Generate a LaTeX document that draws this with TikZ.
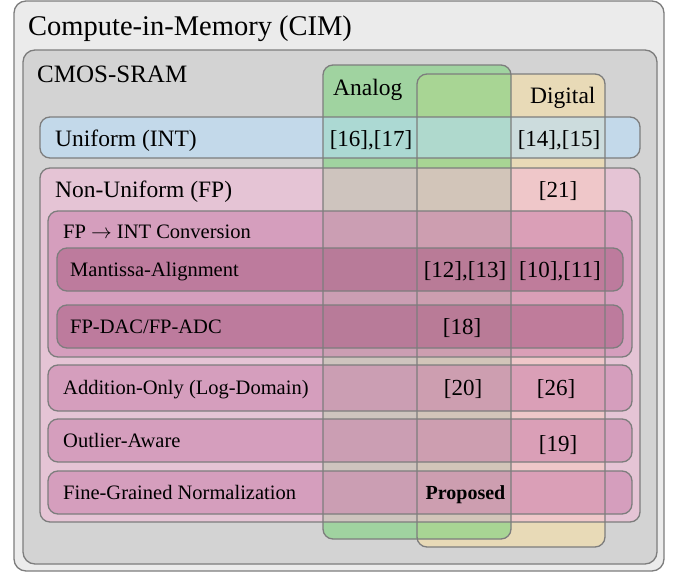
\documentclass[tikz,border=0pt]{standalone}
\usepackage{fontspec}
\setmainfont{Liberation Serif}
\definecolor{outerbg}{RGB}{235,235,235}
\definecolor{cmosbg}{RGB}{211,211,211}
\definecolor{digcol}{RGB}{232,218,183}
\definecolor{anacol}{RGB}{126,211,126}
\definecolor{unicol}{RGB}{182,222,253}
\definecolor{nonunicol}{RGB}{245,184,216}
\definecolor{fpintcol}{RGB}{201,127,170}
\definecolor{mantcol}{RGB}{170,96,132}
\definecolor{linegray}{RGB}{125,125,125}
\begin{document}
\begin{tikzpicture}[x=1pt,y=-1pt,
  bigbox/.style={draw=linegray, line width=1.3pt, rounded corners=12pt},
  colfill/.style={rounded corners=10pt},
  coledge/.style={draw=linegray, line width=1.3pt, rounded corners=10pt},
  rowbox/.style={draw=linegray, line width=1.3pt, rounded corners=10pt, fill opacity=0.55},
  txt/.style={inner sep=0pt, anchor=base west},
  cite/.style={inner sep=0pt, anchor=base, font=\fontsize{23}{27}\selectfont},
  titlefont/.style={font=\fontsize{28.5}{34}\selectfont},
  midfont/.style={font=\fontsize{23.5}{28}\selectfont},
  smallfont/.style={font=\fontsize{20.5}{24}\selectfont}]
\useasboundingbox (0,0) rectangle (678,573);
% outer boxes
\draw[bigbox, fill=outerbg] (14,1) rectangle (664,571);
\draw[bigbox, fill=cmosbg] (23,50) rectangle (657,564);
% column fills
\fill[colfill, fill=digcol] (417,74) rectangle (605,547);
\fill[colfill, fill=anacol, fill opacity=0.6] (323,65) rectangle (511,539);
% rows
\draw[rowbox, fill=unicol] (40,117) rectangle (640,158);
\draw[rowbox, fill=nonunicol] (40,168) rectangle (640,522);
\draw[rowbox, fill=fpintcol] (48,211) rectangle (632,357);
\draw[rowbox, fill=mantcol] (57,248) rectangle (623,291);
\draw[rowbox, fill=mantcol] (57,305) rectangle (623,348);
\draw[rowbox, fill=fpintcol] (48,365) rectangle (632,411);
\draw[rowbox, fill=fpintcol] (48,419) rectangle (632,462);
\draw[rowbox, fill=fpintcol] (48,471) rectangle (632,514);
% column outlines
\draw[coledge] (417,74) rectangle (605,547);
\draw[coledge] (323,65) rectangle (511,539);
% labels
\node[txt, titlefont] (cim) at (28,35) {Compute-in-Memory (CIM)};
\node[txt, font=\fontsize{25}{30}\selectfont] (cmos) at (37,82) {CMOS-SRAM};
\node[txt, midfont] (analog) at (333,95) {Analog};
\node[txt, midfont] (digital) at (530,103) {Digital};
\node[txt, midfont] (uni) at (55,146) {Uniform (INT)};
\node[txt, midfont] (nonuni) at (55,197) {Non-Uniform (FP)};
\node[txt, smallfont] (fpint) at (63,238) {FP $\rightarrow$ INT Conversion};
\node[txt, smallfont] (mant) at (70,276) {Mantissa-Alignment};
\node[txt, smallfont] (dac) at (70,333) {FP-DAC/FP-ADC};
\node[txt, smallfont] (addonly) at (63,394) {Addition-Only (Log-Domain)};
\node[txt, smallfont] (outlier) at (63,447) {Outlier-Aware};
\node[txt, smallfont] (fine) at (63,499) {Fine-Grained Normalization};
% citations
\node[cite] (c1617) at (371,146) {[16],[17]};
\node[cite] (c1415) at (559,146) {[14],[15]};
\node[cite] (c21) at (558,197) {[21]};
\node[cite] (c1213) at (465,277) {[12],[13]};
\node[cite] (c1011) at (560,277) {[10],[11]};
\node[cite] (c18) at (462,334) {[18]};
\node[cite] (c20) at (463,395) {[20]};
\node[cite] (c26) at (556,395) {[26]};
\node[cite] (c19) at (558,451) {[19]};
\node[inner sep=0pt, anchor=base, font=\fontsize{20}{24}\selectfont\bfseries] (prop) at (465.5,499) {Proposed};
\end{tikzpicture}
\end{document}
